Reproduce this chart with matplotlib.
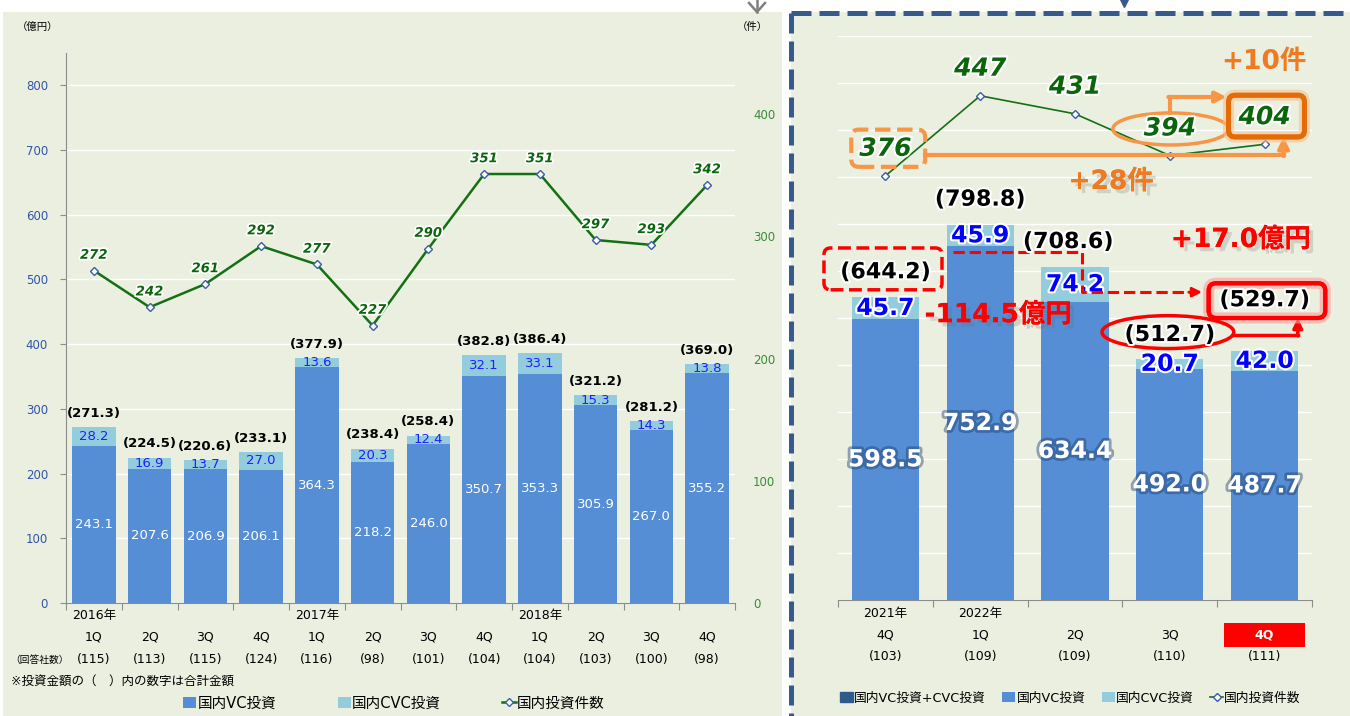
import matplotlib.pyplot as plt
import matplotlib.patheffects as pe
import matplotlib.transforms as mtransforms
from matplotlib.patches import Rectangle, FancyBboxPatch, Ellipse, Patch
from matplotlib.lines import Line2D
import numpy as np

plt.rcParams['font.family'] = ['DejaVu Sans', 'Noto Sans CJK JP']

# ---- left chart: 2016-2018 ----
l_years = ['2016年', '', '', '', '2017年', '', '', '', '2018年', '', '', '']
l_quarters = ['1Q', '2Q', '3Q', '4Q'] * 3
l_resp = [115, 113, 115, 124, 116, 98, 101, 104, 104, 103, 100, 98]
l_total = [271.3, 224.5, 220.6, 233.1, 377.9, 238.4, 258.4, 382.8, 386.4, 321.2, 281.2, 369.0]
l_vc = [243.1, 207.6, 206.9, 206.1, 364.3, 218.2, 246.0, 350.7, 353.3, 305.9, 267.0, 355.2]
l_cvc = [28.2, 16.9, 13.7, 27.0, 13.6, 20.3, 12.4, 32.1, 33.1, 15.3, 14.3, 13.8]
l_cnt = [272, 242, 261, 292, 277, 227, 290, 351, 351, 297, 293, 342]

# ---- right chart: 2021Q4-2022Q4 ----
r_years = ['2021年', '2022年', '', '', '']
r_quarters = ['4Q', '1Q', '2Q', '3Q', '4Q']
r_resp = [103, 109, 109, 110, 111]
r_total = [644.2, 798.8, 708.6, 512.7, 529.7]
r_vc = [598.5, 752.9, 634.4, 492.0, 487.7]
r_cvc = [45.7, 45.9, 74.2, 20.7, 42.0]
r_cnt = [376, 447, 431, 394, 404]

BG = '#EBEFE0'
VC = '#558ED5'
CVC = '#93CDDD'
GREEN = '#137013'
DKGREEN = '#0B650B'
NAVY = '#375A8C'
ORANGE = '#F79646'
GRAY = '#8C8C8C'


def px(x, y):
    return x / 1350, 1 - y / 716


fig = plt.figure(figsize=(13.5, 7.16), dpi=100)

# panel backgrounds and frame
fig.add_artist(Rectangle(px(3, 716), 779 / 1350, 704 / 716, transform=fig.transFigure,
                         fc=BG, ec='none', zorder=-10))
fig.add_artist(Rectangle(px(791, 716), 559 / 1350, 704 / 716, transform=fig.transFigure,
                         fc=BG, ec='none', zorder=-10))
fig.add_artist(Line2D([791 / 1350, 1.0], [1 - 13 / 716] * 2, transform=fig.transFigure,
                      color=NAVY, lw=3.6, ls=(0, (4, 1.6)), zorder=5))
fig.add_artist(Line2D([791 / 1350] * 2, [1 - 13 / 716, 0], transform=fig.transFigure,
                      color=NAVY, lw=3.6, ls=(0, (4, 1.6)), zorder=5))
fig.add_artist(Line2D([757 / 1350] * 2, [1.0, 1 - 12 / 716], transform=fig.transFigure,
                      color='#7F7F7F', lw=1.8))
fig.add_artist(Line2D([749 / 1350, 757 / 1350, 765 / 1350], [1 - 3 / 716, 1 - 12 / 716, 1 - 3 / 716],
                      transform=fig.transFigure, color='#7F7F7F', lw=1.8))
fig.add_artist(Line2D([1124 / 1350], [1 - 3 / 716], transform=fig.transFigure,
                      marker='v', ms=6, color=NAVY, ls='none'))

# ================= left chart =================
ax1 = fig.add_axes([66 / 1350, 1 - 603 / 716, 669 / 1350, 550 / 716])
ax1.set_facecolor('none')
x1 = np.arange(len(l_vc))
b1 = ax1.bar(x1, l_vc, 0.78, color=VC)
b2 = ax1.bar(x1, l_cvc, 0.78, bottom=l_vc, color=CVC)
ax1.set_xlim(-0.5, len(l_vc) - 0.5)
ax1.set_ylim(0, 850)
ax1.set_yticks(range(0, 900, 100))
ax1.grid(axis='y', color='white', lw=1)
ax1.set_axisbelow(True)
for s in ['top', 'right']:
    ax1.spines[s].set_visible(False)
ax1.spines['left'].set_color(GRAY)
ax1.spines['bottom'].set_color(GRAY)
ax1.tick_params(axis='y', labelcolor='#3054A8', labelsize=8.5, length=4, color=GRAY, pad=9)
ax1.set_xticks(np.arange(-0.5, len(l_vc)), [''] * (len(l_vc) + 1))
ax1.tick_params(axis='x', length=5, color=GRAY)

for i in range(len(l_vc)):
    ax1.text(i, l_vc[i] / 2, f'{l_vc[i]:.1f}', color='white', ha='center', va='center', fontsize=9.5)
    ax1.text(i, l_vc[i] + l_cvc[i] / 2, f'{l_cvc[i]:.1f}', color='#1F1FFF', ha='center',
             va='center', fontsize=9.5)
    ax1.annotate(f'({l_total[i]:.1f})', (i, l_total[i]), xytext=(0, 10), textcoords='offset points',
                 ha='center', va='center', fontsize=9.5, fontweight='bold')
    ax1.annotate(l_years[i], (i, 0), xycoords=('data', 'axes fraction'), xytext=(0, -8.8),
                 textcoords='offset points', ha='center', va='center', fontsize=9)
    ax1.annotate(l_quarters[i], (i, 0), xycoords=('data', 'axes fraction'), xytext=(0, -24.5),
                 textcoords='offset points', ha='center', va='center', fontsize=9)
    ax1.annotate(f'({l_resp[i]})', (i, 0), xycoords=('data', 'axes fraction'), xytext=(0, -41),
                 textcoords='offset points', ha='center', va='center', fontsize=9)

ax1t = ax1.twinx()
line1, = ax1t.plot(x1, l_cnt, color=GREEN, lw=1.8, marker='D', ms=4.5, mfc='white',
                   mec='#3B5DA8', mew=1)
ax1t.set_ylim(0, 450)
ax1t.set_yticks(range(0, 500, 100))
ax1t.tick_params(axis='y', length=0, labelcolor='#3A8A3A', labelsize=8.5, pad=13)
for s in ax1t.spines.values():
    s.set_visible(False)
for i, c in enumerate(l_cnt):
    ax1t.annotate(str(c), (i, c), xytext=(0, 11), textcoords='offset points', ha='center',
                  va='center', fontsize=9.5, fontweight='bold', fontstyle='italic', color=DKGREEN,
                  path_effects=[pe.withStroke(linewidth=2.5, foreground='white')])

fig.text(*px(38, 27), '（億円）', fontsize=7.5, ha='center', va='center')
fig.text(*px(752, 27), '（件）', fontsize=7.5, ha='center', va='center')
fig.text(*px(10, 660), '（回答社数）', fontsize=7, ha='left', va='center')
fig.text(*px(11, 681), '※投資金額の（　）内の数字は合計金額', fontsize=9, ha='left', va='center')

fig.legend([b1, b2, line1], ['国内VC投資', '国内CVC投資', '国内投資件数'], loc='center left',
           bbox_to_anchor=px(183, 703), ncol=3, frameon=False, fontsize=10.5, handlelength=0.9,
           handleheight=0.85, handletextpad=0.1, columnspacing=4.2, borderpad=0, borderaxespad=0)

# ================= right chart =================
ax2 = fig.add_axes([838 / 1350, 1 - 600 / 716, 474 / 1350, 564 / 716])
ax2.set_facecolor('none')
x2 = np.arange(len(r_vc))
c1 = ax2.bar(x2, r_vc, 0.71, color=VC)
c2 = ax2.bar(x2, r_cvc, 0.71, bottom=r_vc, color=CVC)
ax2.set_xlim(-0.5, len(r_vc) - 0.5)
ax2.set_ylim(0, 1200)
ax2.set_yticks(range(0, 1300, 100))
ax2.tick_params(axis='y', length=0, labelleft=False)
ax2.grid(axis='y', color='white', lw=1)
ax2.set_axisbelow(True)
for s in ['top', 'right', 'left']:
    ax2.spines[s].set_visible(False)
ax2.spines['bottom'].set_color(GRAY)
ax2.set_xticks(np.arange(-0.5, len(r_vc)), [''] * (len(r_vc) + 1))
ax2.tick_params(axis='x', length=5, color=GRAY)

tot_off = [53, 53, 53, 51, 108]
tot_dx = [0, 0, -0.07, 0, 0]
for i in range(len(r_vc)):
    ax2.text(i, r_vc[i] / 2, f'{r_vc[i]:.1f}', color='white', ha='center', va='center',
             fontsize=17, fontweight='bold',
             path_effects=[pe.withStroke(linewidth=4, foreground='#1F3F6F', alpha=0.45)])
    ax2.text(i, r_vc[i] + r_cvc[i] / 2, f'{r_cvc[i]:.1f}', color='#0000FF', ha='center',
             va='center', fontsize=17, fontweight='bold',
             path_effects=[pe.withStroke(linewidth=3, foreground='white')])
    ax2.text(i + tot_dx[i], r_total[i] + tot_off[i], f'({r_total[i]:.1f})', ha='center',
             va='center', fontsize=16, fontweight='bold', zorder=6,
             path_effects=[pe.withStroke(linewidth=3, foreground='white')])
    ax2.annotate(r_years[i], (i, 0), xycoords=('data', 'axes fraction'), xytext=(0, -9.4),
                 textcoords='offset points', ha='center', va='center', fontsize=9)
    ax2.annotate(f'({r_resp[i]})', (i, 0), xycoords=('data', 'axes fraction'), xytext=(0, -41),
                 textcoords='offset points', ha='center', va='center', fontsize=9)
    last = i == len(r_vc) - 1
    ax2.annotate(r_quarters[i], (i, 0), xycoords=('data', 'axes fraction'), xytext=(0, -25.2),
                 textcoords='offset points', ha='center', va='center', fontsize=9,
                 color='white' if last else 'black', fontweight='bold' if last else 'normal',
                 zorder=4)

blend = mtransforms.blended_transform_factory(ax2.transData, ax2.transAxes)
ax2.add_patch(Rectangle((len(r_vc) - 1 - 0.43, -0.0833), 0.86, 0.0425, transform=blend,
                        fc='#FF0000', ec='none', clip_on=False, zorder=3))

ax2t = ax2.twinx()
line2, = ax2t.plot(x2, r_cnt, color=GREEN, lw=1.2, marker='D', ms=4.5, mfc='white',
                   mec='#3B5DA8', mew=1)
ax2t.set_ylim(0, 500)
ax2t.set_yticks([])
for s in ax2t.spines.values():
    s.set_visible(False)
for i, c in enumerate(r_cnt):
    ax2t.text(i, c + 24, str(c), ha='center', va='center', fontsize=18, fontweight='bold',
              fontstyle='italic', color=DKGREEN, zorder=6,
              path_effects=[pe.withStroke(linewidth=3, foreground='white')])

# ---- orange call-outs (count scale) ----
asp_c = 94.8 / 1.128
ax2t.add_patch(FancyBboxPatch((-0.36, 384), 0.78, 33, boxstyle='round,pad=0,rounding_size=0.08',
                              mutation_aspect=asp_c, fc='none', ec=ORANGE, lw=3, ls='--',
                              clip_on=False, zorder=5))
ax2t.add_patch(Ellipse((3.01, 417.6), 1.22, 28.4, fc='none', ec=ORANGE, lw=2.5, zorder=5))
ax2t.add_patch(FancyBboxPatch((3.62, 410.5), 0.8, 37, boxstyle='round,pad=0,rounding_size=0.07',
                              mutation_aspect=asp_c, fc='none', ec='#E36C09', lw=3.5,
                              clip_on=False, zorder=5,
                              path_effects=[pe.withStroke(linewidth=8, foreground='#F9C08A', alpha=0.6),
                                            pe.Normal()]))
ax2t.plot([0.42, 4.2], [394.5, 394.5], color=ORANGE, lw=3, zorder=4, clip_on=False)
ax2t.annotate('', xy=(4.2, 410.5), xytext=(4.2, 393.5),
              arrowprops=dict(arrowstyle='-|>', color=ORANGE, lw=3, mutation_scale=16,
                              shrinkA=0, shrinkB=0))
ax2t.plot([3.0, 3.0], [431.8, 445.9], color=ORANGE, lw=3, zorder=4)
ax2t.annotate('', xy=(3.6, 445.9), xytext=(2.985, 445.9),
              arrowprops=dict(arrowstyle='-|>', color=ORANGE, lw=3, mutation_scale=16,
                              shrinkA=0, shrinkB=0))
soft = [pe.withSimplePatchShadow(offset=(3, -3), shadow_rgbFace='#666666', alpha=0.22), pe.Normal()]
ax2t.text(3.99, 477, '+10件', color='#EE7A22', fontsize=19, fontweight='bold', ha='center',
          va='center')
ax2t.text(2.38, 370.6, '+28件', color='#EE7A22', fontsize=19, fontweight='bold', ha='center',
          va='center', path_effects=soft)

# ---- red call-outs (amount scale) ----
asp_v = 94.8 / 0.47
ax2.add_patch(FancyBboxPatch((-0.648, 660), 1.245, 89, boxstyle='round,pad=0,rounding_size=0.07',
                             mutation_aspect=asp_v, fc='none', ec='#FF0000', lw=2.5, ls='--',
                             clip_on=False, zorder=5))
ax2.plot([0.713, 2.07, 2.07, 3.28], [740, 740, 655, 655], color='#FF0000', lw=2.2, ls='--',
         zorder=5)
ax2.annotate('', xy=(3.34, 655), xytext=(3.2, 655),
             arrowprops=dict(arrowstyle='-|>', color='#FF0000', lw=2, mutation_scale=14,
                             shrinkA=0, shrinkB=0))
ax2.add_patch(FancyBboxPatch((3.41, 600), 1.23, 74, boxstyle='round,pad=0,rounding_size=0.08',
                             mutation_aspect=asp_v, fc='none', ec='#FF0000', lw=3,
                             clip_on=False, zorder=5,
                             path_effects=[pe.withStroke(linewidth=8, foreground='#FF9A9A', alpha=0.6),
                                           pe.Normal()]))
ax2.add_patch(Ellipse((2.98, 570), 1.39, 70, fc='none', ec='#FF0000', lw=2.5, zorder=5))
ax2.plot([3.68, 4.35], [564, 564], color='#FF0000', lw=2.5, zorder=5, clip_on=False)
ax2.annotate('', xy=(4.35, 600), xytext=(4.35, 562),
             arrowprops=dict(arrowstyle='-|>', color='#FF0000', lw=2.5, mutation_scale=14,
                             shrinkA=0, shrinkB=0))
ax2.text(1.19, 606, '-114.5億円', color='#FF0000', fontsize=19, fontweight='bold', ha='center',
         va='center', zorder=6, path_effects=soft)
ax2.text(3.75, 766, '+17.0億円', color='#FF0000', fontsize=19, fontweight='bold', ha='center',
         va='center', zorder=6, path_effects=soft)

fig.legend([Patch(color='#2F5A8C'), c1, c2, line2],
           ['国内VC投資+CVC投資', '国内VC投資', '国内CVC投資', '国内投資件数'], loc='center left',
           bbox_to_anchor=px(840, 698), ncol=4, frameon=False, fontsize=9.2, handlelength=1.0,
           handleheight=0.9, handletextpad=0.1, columnspacing=1.3, borderpad=0, borderaxespad=0)

fig.savefig('out.png', dpi=100, facecolor='white')
